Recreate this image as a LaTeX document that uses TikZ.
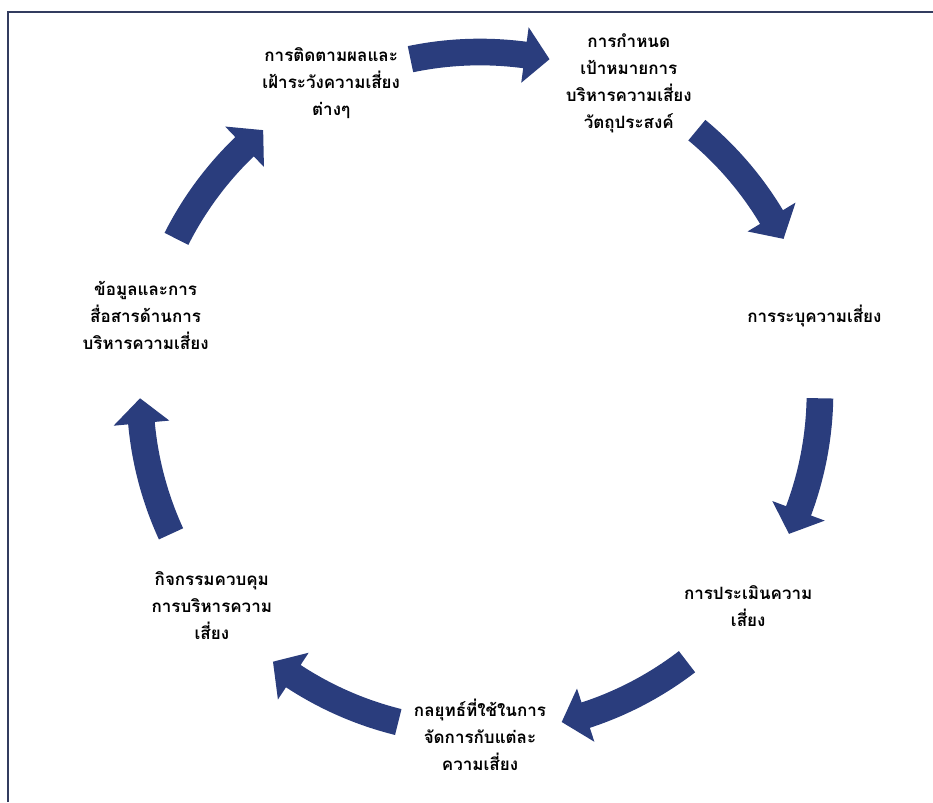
\documentclass[tikz,border=0pt]{standalone}
\usepackage{fontspec}
\usetikzlibrary{calc}
\newfontfamily\thaifont[Script=Thai]{Loma}
\definecolor{cycblue}{RGB}{42,61,125}
\definecolor{framecol}{RGB}{50,60,95}
\tikzset{
  stagebox/.style={align=center,font={\thaifont\bfseries\fontsize{14.5}{23}\selectfont}},
  cycarrow/.style={fill=cycblue},
  frameline/.style={draw=framecol,line width=1.2pt}
}
\begin{document}
\begin{tikzpicture}
 \useasboundingbox (0,0) rectangle (27.99,24.06);
 \draw[frameline] (0.24,0) -- (0.24,23.7) -- (27.99,23.7);
 \coordinate (cyc) at (14.4,12.3);
 %
 % the seven stages, clockwise from the top
 \node[stagebox] (monitor) at ($(cyc)+(115.71:10.29)$) {การติดตามผลและ\\เฝ้าระวังความเสี่ยง\\ต่างๆ};
 \node[stagebox] (target) at ($(cyc)+(64.29:10.29)$) {การกำหนด\\เป้าหมายการ\\บริหารความเสี่ยง\\วัตถุประสงค์};
 \node[stagebox] (identify) at ($(cyc)+(12.86:10.29)$) {การระบุความเสี่ยง};
 \node[stagebox] (assess) at ($(cyc)+(-38.57:10.29)$) {การประเมินความ\\เสี่ยง};
 \node[stagebox] (strategy) at ($(cyc)+(-90:10.29)$) {กลยุทธ์ที่ใช้ในการ\\จัดการกับแต่ละ\\ความเสี่ยง};
 \node[stagebox] (control) at ($(cyc)+(-141.43:10.29)$) {กิจกรรมควบคุม\\การบริหารความ\\เสี่ยง};
 \node[stagebox] (inform) at ($(cyc)+(167.14:10.29)$) {ข้อมูลและการ\\สื่อสารด้านการ\\บริหารความเสี่ยง};
 %
 % curved block arrows between the stages
 \begin{scope}[shift={(cyc)}]
 \foreach \a in {90,38.57,-12.86,-64.29,-115.71,-167.14,141.43} {
   \pgfmathsetmacro{\t}{\a+11.8}
   \pgfmathsetmacro{\b}{\a-11.8}
   \pgfmathsetmacro{\c}{\a-11.8+4.2}
   \fill[cycarrow] (\t:10.6) arc[start angle=\t, end angle=\c, radius=10.6]
     -- (\c:11.04) -- (\b:10.2) -- (\c:9.36) -- (\c:9.8)
     arc[start angle=\c, end angle=\t, radius=9.8] -- cycle;
 }
 \end{scope}
\end{tikzpicture}
\end{document}
